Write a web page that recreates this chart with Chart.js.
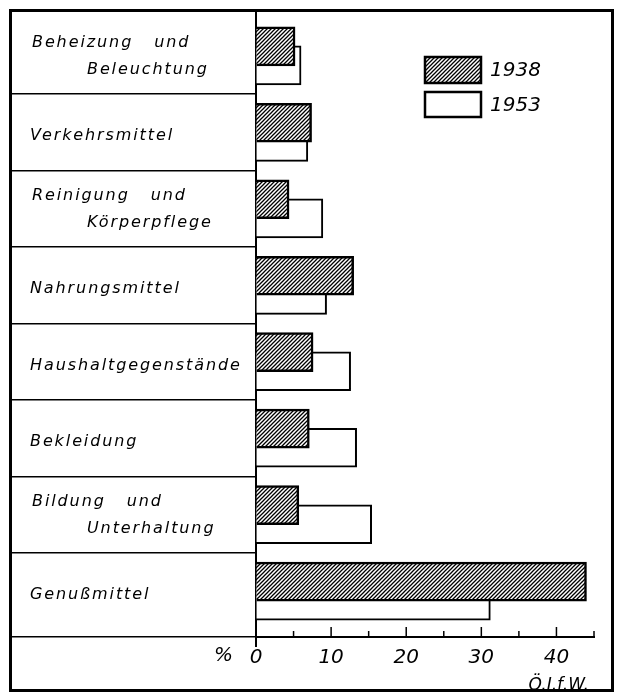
<!DOCTYPE html>
<html>
<head>
<meta charset="utf-8">
<script src="https://cdn.jsdelivr.net/npm/chart.js@4/dist/chart.umd.min.js"></script>
<style>
html,body{margin:0;padding:0;background:#fff;}
</style>
</head>
<body>
<canvas id="myChart" width="625" height="696"></canvas>
<script>
const categories=[["Beheizung   und","Beleuchtung"],"Verkehrsmittel",["Reinigung   und","Körperpflege"],"Nahrungsmittel","Haushaltgegenstände","Bekleidung",["Bildung   und","Unterhaltung"],"Genußmittel"];
const years=["1938","1953"];
const values1938=[5.2,7.4,4.4,13.0,7.6,7.1,5.7,44.0];
const values1953=[6.0,6.9,8.9,9.4,12.6,13.4,15.4,31.2];
const xTicks=[0,10,20,30,40];
const unitLabel="%";
const sourceLabel="Ö.I.f.W.";

const labelFont='italic 16px "DejaVu Sans"';
const numFont='italic 20px "DejaVu Sans"';
const edgePad=0.6;
const pairShift=0.125;

const ctx=document.getElementById('myChart').getContext('2d');

// diagonal hatching for the 1938 bars
function hatch(){
    const c=document.createElement('canvas');
    c.width=4;c.height=4;
    const g=c.getContext('2d');
    g.fillStyle='#fff';g.fillRect(0,0,4,4);
    g.strokeStyle='#000';g.lineWidth=1.3;
    g.beginPath();
    g.moveTo(0,4);g.lineTo(4,0);
    g.moveTo(-1,1);g.lineTo(1,-1);
    g.moveTo(3,5);g.lineTo(5,3);
    g.stroke();
    return ctx.createPattern(c,'repeat');
}

const rowEdges=[-edgePad];
for(let i=0;i<categories.length-1;i++) rowEdges.push(i+0.5);
rowEdges.push(categories.length-1+edgePad);

const decor={
    id:'decor',
    afterDraw(chart){
        const c=chart.ctx,xs=chart.scales.x,ys=chart.scales.y,a=chart.chartArea;
        c.save();
        c.fillStyle='#000';c.strokeStyle='#000';
        // outer frame
        c.lineWidth=3;
        c.strokeRect(10.5,10.5,602,680);
        // small upward ticks on the value axis
        c.lineWidth=1.5;
        for(let v=5;v<=xs.max;v+=5){
            const px=xs.getPixelForValue(v);
            const len=v%10===0?10:6;
            c.beginPath();c.moveTo(px,a.bottom);c.lineTo(px,a.bottom-len);c.stroke();
        }
        c.lineWidth=2;
        c.beginPath();c.moveTo(a.left,a.bottom);c.lineTo(a.left,a.bottom+10);c.stroke();
        // category labels
        c.font=labelFont;
        c.letterSpacing='1.9px';
        c.textAlign='left';c.textBaseline='alphabetic';
        categories.forEach((lab,i)=>{
            const y=ys.getPixelForValue(i);
            if(Array.isArray(lab)){
                c.fillText(lab[0],32,y-9);
                c.fillText(lab[1],32+55,y+18);
            }else{
                c.fillText(lab,30,y+8);
            }
        });
        c.letterSpacing='0px';
        // unit and source
        c.font=numFont;
        c.textAlign='right';c.textBaseline='middle';
        c.fillText(unitLabel,233,656);
        c.font='italic 17px "DejaVu Sans"';
        c.textBaseline='alphabetic';
        c.fillText(sourceLabel,589,690);
        // legend
        const ds=chart.data.datasets;
        const boxes=[[425,57,56,26],[425,92,56,25]];
        ds.forEach((d,k)=>{
            const b=boxes[k];
            c.fillStyle=d.backgroundColor;
            c.fillRect(b[0],b[1],b[2],b[3]);
            c.lineWidth=2.5;c.strokeStyle='#000';
            c.strokeRect(b[0],b[1],b[2],b[3]);
            c.fillStyle='#000';
            c.font=numFont;c.textAlign='left';c.textBaseline='middle';
            c.fillText(d.label,490,b[1]+b[3]/2+1);
        });
        c.restore();
    }
};

const myChart=new Chart(ctx,{
    type:'bar',
    data:{
        datasets:[{
            label:years[0],
            data:values1938.map((v,i)=>({x:v,y:i-pairShift})),
            backgroundColor:hatch(),
            borderColor:'#000',
            borderWidth:2.5,
            borderSkipped:'start',
            barThickness:39,
            grouped:false
        },{
            label:years[1],
            data:values1953.map((v,i)=>({x:v,y:i+pairShift})),
            backgroundColor:'#fff',
            borderColor:'#000',
            borderWidth:2,
            borderSkipped:'start',
            barThickness:39,
            grouped:false
        }]
    },
    options:{
        indexAxis:'y',
        responsive:false,
        animation:false,
        devicePixelRatio:1,
        layout:{padding:{left:10,top:10,right:31,bottom:0}},
        plugins:{
            legend:{display:false},
            tooltip:{enabled:false}
        },
        scales:{
            x:{
                type:'linear',
                position:'bottom',
                min:0,
                max:45,
                afterFit:s=>{s.height=59;},
                afterBuildTicks:s=>{s.ticks=xTicks.map(v=>({value:v}));},
                grid:{display:true,drawOnChartArea:false,drawTicks:false},
                border:{display:true,color:'#000',width:2},
                ticks:{
                    color:'#000',
                    padding:9,
                    maxRotation:0,
                    autoSkip:false,
                    font:{family:'DejaVu Sans',style:'italic',size:20}
                }
            },
            y:{
                type:'linear',
                reverse:true,
                offset:false,
                min:-edgePad,
                max:categories.length-1+edgePad,
                afterFit:s=>{s.width=246;},
                afterBuildTicks:s=>{s.ticks=rowEdges.map(v=>({value:v}));},
                grid:{offset:false,drawOnChartArea:false,drawTicks:true,tickLength:246,color:'#000',lineWidth:1.5},
                border:{display:true,color:'#000',width:2},
                ticks:{display:false}
            }
        }
    },
    plugins:[decor]
});
</script>
</body>
</html>
